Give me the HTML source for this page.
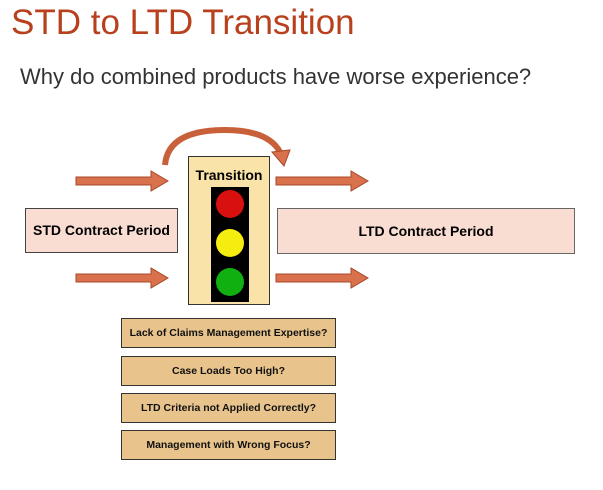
<!DOCTYPE html>
<html><head><style>
body{margin:0;width:603px;height:490px;background:#fff;position:relative;font-family:"Liberation Sans",Arial,sans-serif;overflow:hidden}
.a{position:absolute}
.q{position:absolute;left:121px;width:213px;height:28px;background:#e8c48c;border:1px solid #333;font-size:10.5px;font-weight:bold;text-align:center;line-height:28px;color:#111}
</style></head><body>
<div class="a" style="left:11px;top:3px;font-size:35px;color:#b8401c">STD to LTD Transition</div>
<div class="a" style="left:20px;top:64px;font-size:22px;color:#333">Why do combined products have worse experience?</div>
<svg class="a" style="left:0;top:0" width="603" height="490">
<defs><g id="ar"><polygon points="0,-4 75,-4 75,-10 92,0 75,10 75,4 0,4" fill="#d9714c" stroke="#a8482a" stroke-width="1"/></g></defs>
<use href="#ar" x="76" y="181"/><use href="#ar" x="76" y="278"/>
<use href="#ar" x="276" y="181"/><use href="#ar" x="276" y="278"/>
<path d="M165,165 Q168,130 225,130 Q268,130 280,152" fill="none" stroke="#c8603a" stroke-width="6"/>
<polygon points="272,152 290,150 284,166" fill="#d9714c" stroke="#a8482a"/>
</svg>
<div class="a" style="left:25px;top:208px;width:151px;height:43px;background:#f9dcd2;border:1px solid #444;font-size:14px;font-weight:bold;line-height:43px;text-align:center">STD Contract Period</div>
<div class="a" style="left:277px;top:208px;width:296px;height:44px;background:#f9dcd2;border:1px solid #666;font-size:14px;font-weight:bold;line-height:44px;text-align:center">LTD Contract Period</div>
<div class="a" style="left:188px;top:156px;width:80px;height:147px;background:#fae3a8;border:1px solid #333"></div>
<div class="a" style="left:188px;top:167px;width:82px;text-align:center;font-size:14px;font-weight:bold">Transition</div>
<div class="a" style="left:211px;top:187px;width:38px;height:115px;background:#000"></div>
<div class="a" style="left:216px;top:190px;width:28px;height:28px;border-radius:50%;background:#d81010"></div>
<div class="a" style="left:216px;top:229px;width:28px;height:28px;border-radius:50%;background:#f5ec10"></div>
<div class="a" style="left:216px;top:268px;width:28px;height:28px;border-radius:50%;background:#10b010"></div>
<div class="q" style="top:318px">Lack of Claims Management Expertise?</div>
<div class="q" style="top:356px">Case Loads Too High?</div>
<div class="q" style="top:393px">LTD Criteria not Applied Correctly?</div>
<div class="q" style="top:430px">Management with Wrong Focus?</div>
</body></html>
